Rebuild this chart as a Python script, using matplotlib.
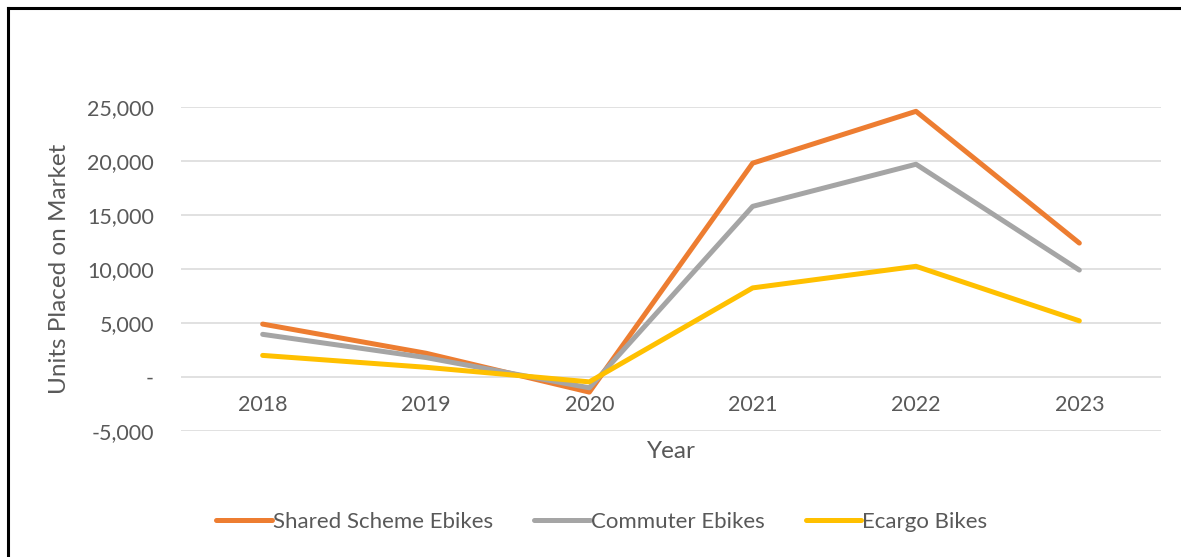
import matplotlib
matplotlib.use("Agg")
import matplotlib.pyplot as plt
from matplotlib.lines import Line2D
from matplotlib.ticker import FuncFormatter, MultipleLocator

years = ["2018", "2019", "2020", "2021", "2022", "2023"]
shared_scheme = [4900, 2200, -1400, 19800, 24600, 12400]
commuter = [3950, 1800, -1000, 15800, 19700, 9900]
ecargo = [2000, 900, -450, 8250, 10250, 5200]

series_names = ["Shared Scheme Ebikes", "Commuter Ebikes", "Ecargo Bikes"]
colors = ["#ED7D31", "#A5A5A5", "#FFC000"]
text_color = "#595959"

plt.rcParams["font.family"] = ["Lato", "DejaVu Sans"]

fig = plt.figure(figsize=(11.81, 5.57), dpi=100)
ax = fig.add_axes([181 / 1181, 1 - 431 / 557, 980 / 1181, 324 / 557])

x = list(range(len(years)))
for vals, name, c in zip([shared_scheme, commuter, ecargo], series_names, colors):
    ax.plot(x, vals, color=c, lw=3.6, label=name, solid_capstyle="round",
            solid_joinstyle="round", zorder=3)

ax.set_xlim(-0.5, len(years) - 0.5)
ax.set_ylim(-5000, 25000)
ax.yaxis.set_major_locator(MultipleLocator(5000))
ax.yaxis.set_major_formatter(FuncFormatter(lambda v, p: "-" if v == 0 else f"{v:,.0f}"))
ax.grid(axis="y", color="#D9D9D9", lw=1.1, zorder=0)
ax.set_axisbelow(True)

ax.set_xticks(x)
ax.set_xticklabels(years)
ax.spines["bottom"].set_position(("data", 0))
for s in ["top", "right", "left", "bottom"]:
    ax.spines[s].set_visible(False)
ax.tick_params(axis="both", length=0, labelsize=15.5, labelcolor=text_color)
ax.tick_params(axis="y", pad=19.5)
ax.tick_params(axis="x", pad=13)

fig.text(60 / 1181, 1 - 269 / 557, "Units Placed on Market", rotation=90,
         ha="center", va="center", fontsize=17.5, color=text_color)
fig.text(671 / 1181, 1 - 451 / 557, "Year", ha="center", va="center",
         fontsize=17.5, color=text_color)

fig.legend(loc="center", bbox_to_anchor=(602 / 1181, 1 - 522 / 557), ncol=3,
           frameon=False, fontsize=16, labelcolor=text_color, handlelength=2.5,
           handletextpad=0.05, columnspacing=1.85)

# chart border (left and top only visible)
fig.add_artist(Line2D([7.5 / 1181, 7.5 / 1181], [0, 1 - 7.5 / 557], color="black", lw=2.2,
                      transform=fig.transFigure))
fig.add_artist(Line2D([7.5 / 1181, 1], [1 - 7.5 / 557, 1 - 7.5 / 557], color="black", lw=2.2,
                      transform=fig.transFigure))

fig.savefig("out.png", dpi=100)
